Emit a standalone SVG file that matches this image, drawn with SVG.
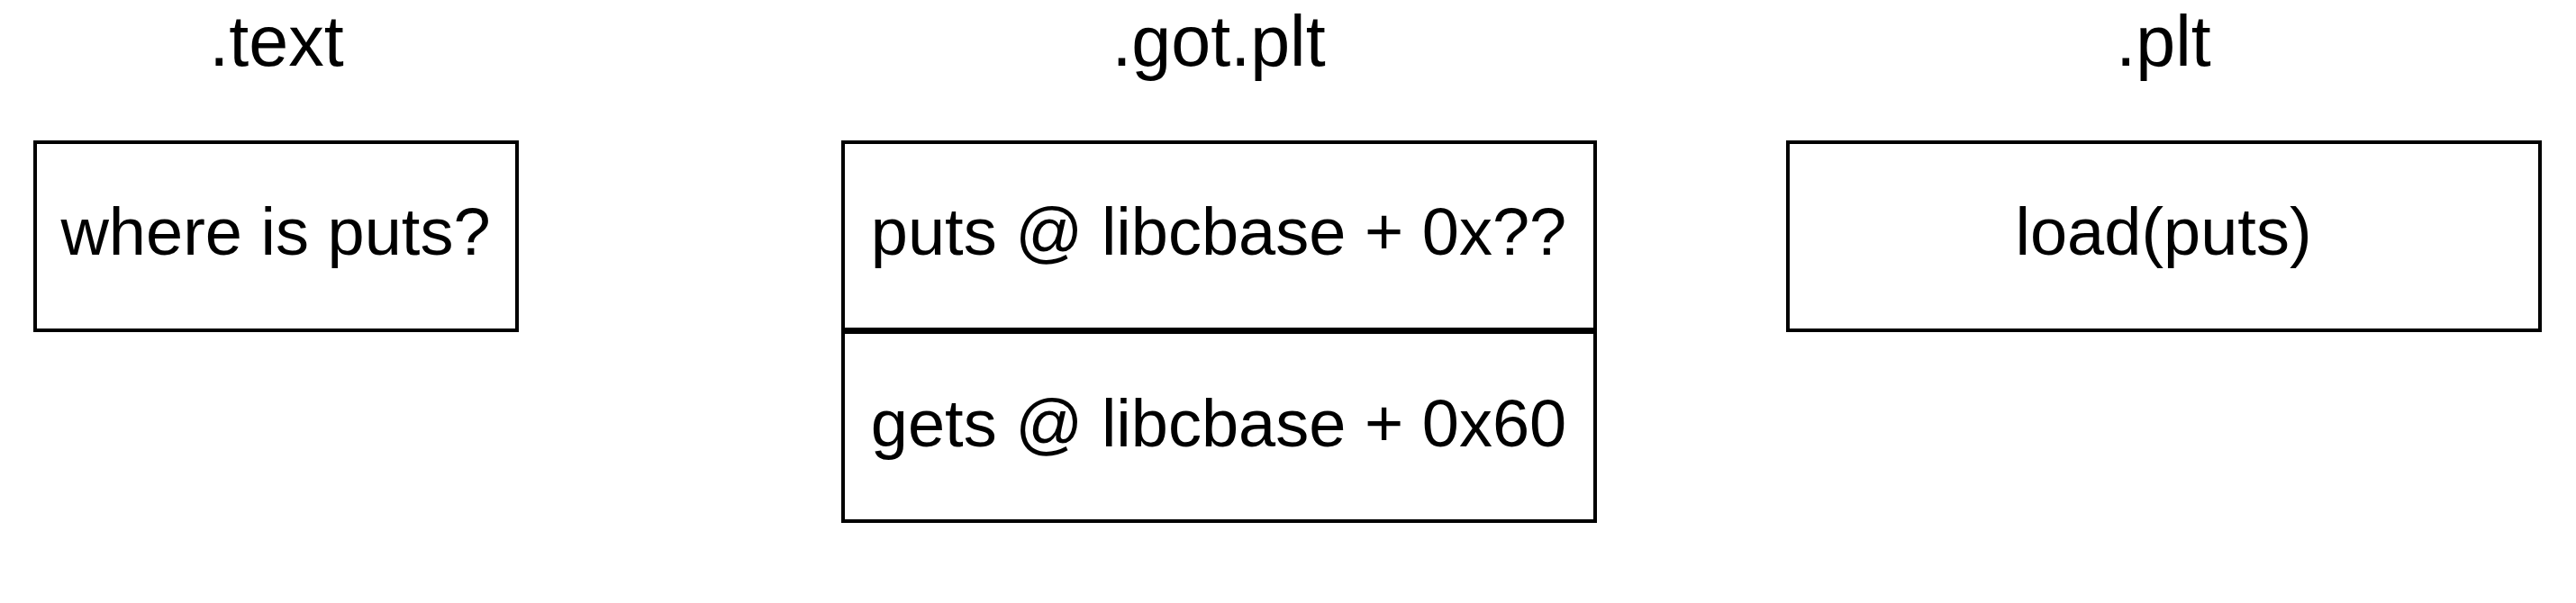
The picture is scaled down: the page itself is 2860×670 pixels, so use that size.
<svg xmlns="http://www.w3.org/2000/svg" width="2860" height="670" viewBox="0 0 2860 670">
<style>
.box{fill:#fff;stroke:#000;stroke-width:4}
.t{font-family:"Liberation Sans",Arial,sans-serif;font-size:74px;fill:#000;text-anchor:middle}
.h{font-family:"Liberation Sans",Arial,sans-serif;font-size:79px;fill:#000;text-anchor:middle}
</style>
<rect width="2860" height="670" fill="#fff"/>
<g id="text-section">
<text class="h" x="307" y="73">.text</text>
<rect class="box" x="39" y="158" width="535" height="209"/>
<text class="t" x="306" y="283">where is puts?</text>
</g>
<g id="gotplt-section">
<text class="h" x="1353" y="73">.got.plt</text>
<g id="got-puts">
<rect class="box" x="936" y="158" width="835" height="208"/>
<text class="t" x="1353" y="283">puts @ libcbase + 0x??</text>
</g>
<g id="got-gets">
<rect class="box" x="936" y="369" width="835" height="210"/>
<text class="t" x="1353" y="496">gets @ libcbase + 0x60</text>
</g>
</g>
<g id="plt-section">
<text class="h" x="2402" y="73">.plt</text>
<rect class="box" x="1985" y="158" width="835" height="209"/>
<text class="t" x="2402" y="283">load(puts)</text>
</g>
<g id="connectors"></g>
</svg>
